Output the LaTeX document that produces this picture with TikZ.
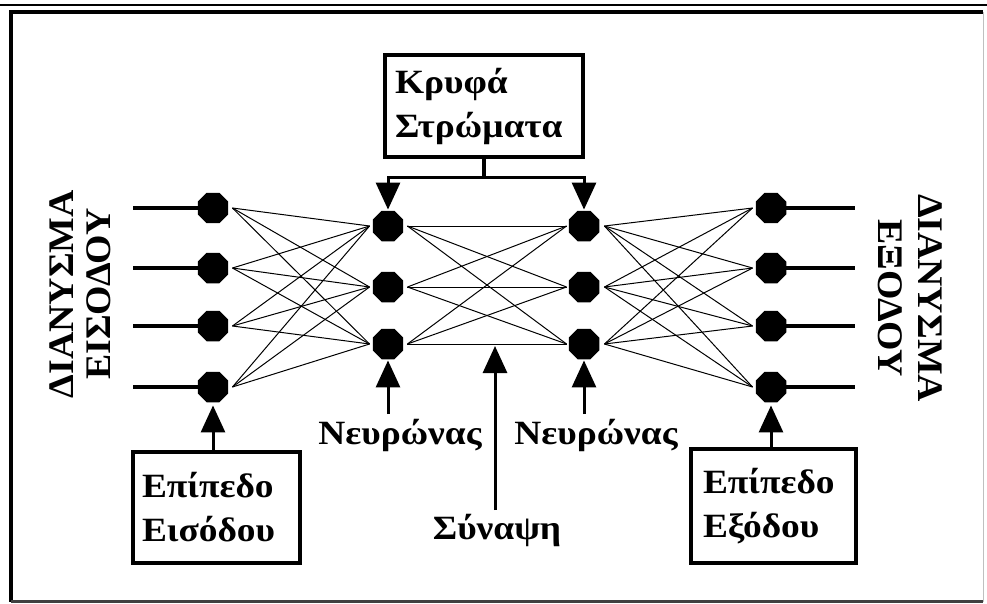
\documentclass[tikz,border=0pt]{standalone}
\usepackage{fontspec}
\setmainfont{Liberation Serif}
\newfontfamily\widefont{Liberation Serif}[FakeStretch=1.1]
\newfontfamily\capfont{Liberation Serif}[FakeStretch=1.05]
\usetikzlibrary{shapes.geometric,arrows.meta}
\begin{document}
\begin{tikzpicture}[x=1pt,y=-1pt,
  neuron/.style={regular polygon, regular polygon sides=8, fill=black, inner sep=0pt, minimum size=33pt},
  conn/.style={line width=1pt},
  stub/.style={line width=3.2pt},
  txt/.style={font=\widefont\bfseries\fontsize{34}{43}\selectfont, inner sep=0pt},
  boxed/.style={draw, line width=3.4pt, align=left, font=\widefont\bfseries\fontsize{34}{44}\selectfont, anchor=center},
  bigarrow/.style={line width=3pt, -{Triangle[length=27pt,width=24pt]}}
]
\useasboundingbox (0,0) rectangle (987,603);
% frame
\draw[line width=2pt] (0,4.5) -- (987,4.5);
\draw[line width=4pt] (983,12) -- (10.5,12) -- (10.5,601.5);
\draw[line width=3pt, black!75] (10.5,601.5) -- (983,601.5);
\draw[line width=1pt, black!25] (983,12) -- (983,601.5);

% neurons
\foreach \i/\y in {1/208,2/268,3/326,4/387} {
  \node[neuron] (in\i) at (213,\y) {};
  \node[neuron] (out\i) at (771,\y) {};
  \coordinate (il\i) at (133,\y);
  \coordinate (ol\i) at (855,\y);
  \draw[stub] (il\i) -- (in\i.west);
  \draw[stub] (out\i.east) -- (ol\i);
}
\foreach \j/\y in {1/226,2/287,3/344} {
  \node[neuron] (ha\j) at (388,\y) {};
  \node[neuron] (hb\j) at (584,\y) {};
}
% connections
\foreach \i in {1,...,4} \foreach \j in {1,2,3} {
  \draw[conn] ([xshift=4pt]in\i.east) -- ([xshift=-3pt]ha\j.west);
  \draw[conn] ([xshift=5pt]hb\j.east) -- ([xshift=-3pt]out\i.west);
}
\foreach \i in {1,2,3} \foreach \j in {1,2,3} {
  \draw[conn] ([xshift=4pt]ha\i.east) -- ([xshift=-2pt]hb\j.west);
}

% hidden layers box
\node[boxed, minimum width=198pt, minimum height=102pt, text width=178pt, inner xsep=10pt] (hbox) at (484,106) {Κρυφά\\Στρώματα};
\coordinate (hj) at (484,177);
\draw[stub] (hbox.south) -- (hj);
\draw[bigarrow, shorten >=1pt] (hj) -| (ha1.north);
\draw[bigarrow, shorten >=1pt] (hj) -| (hb1.north);

% input / output boxes
\node[boxed, minimum width=167pt, minimum height=111pt, text width=149pt, inner xsep=9pt] (inbox) at (216.5,507.5) {Επίπεδο\\Εισόδου};
\node[boxed, minimum width=165pt, minimum height=114pt, text width=141pt, inner xsep=12pt] (outbox) at (773.5,506) {Επίπεδο\\Εξόδου};
\draw[bigarrow, shorten >=3pt] (in4 |- inbox.north) -- (in4.south);
\draw[bigarrow, shorten >=3pt] (out4 |- outbox.north) -- (out4.south);

% neuron labels
\node[txt] (n1) at (400,435) {Νευρώνας};
\node[txt] (n2) at (596,435) {Νευρώνας};
\coordinate (a1) at (388,414);
\coordinate (a2) at (584,414);
\draw[bigarrow, shorten >=1pt] (a1) -- (ha3.south);
\draw[bigarrow, shorten >=1pt] (a2) -- (hb3.south);

% synapse
\node[txt] (syn) at (497,530) {Σύναψη};
\coordinate (sb) at (495,510);
\coordinate (st) at (495,346);
\draw[bigarrow] (sb) -- (st);

% vector labels
\node[txt, rotate=90, align=center, font=\capfont\bfseries\fontsize{36}{37}\selectfont] (vin) at (80,294) {ΔΙΑΝΥΣΜΑ\\ΕΙΣΟΔΟΥ};
\node[txt, rotate=-90, align=center, font=\capfont\bfseries\fontsize{36}{40}\selectfont] (vout) at (910,298) {ΔΙΑΝΥΣΜΑ\\ΕΞΟΔΟΥ};
\end{tikzpicture}
\end{document}
